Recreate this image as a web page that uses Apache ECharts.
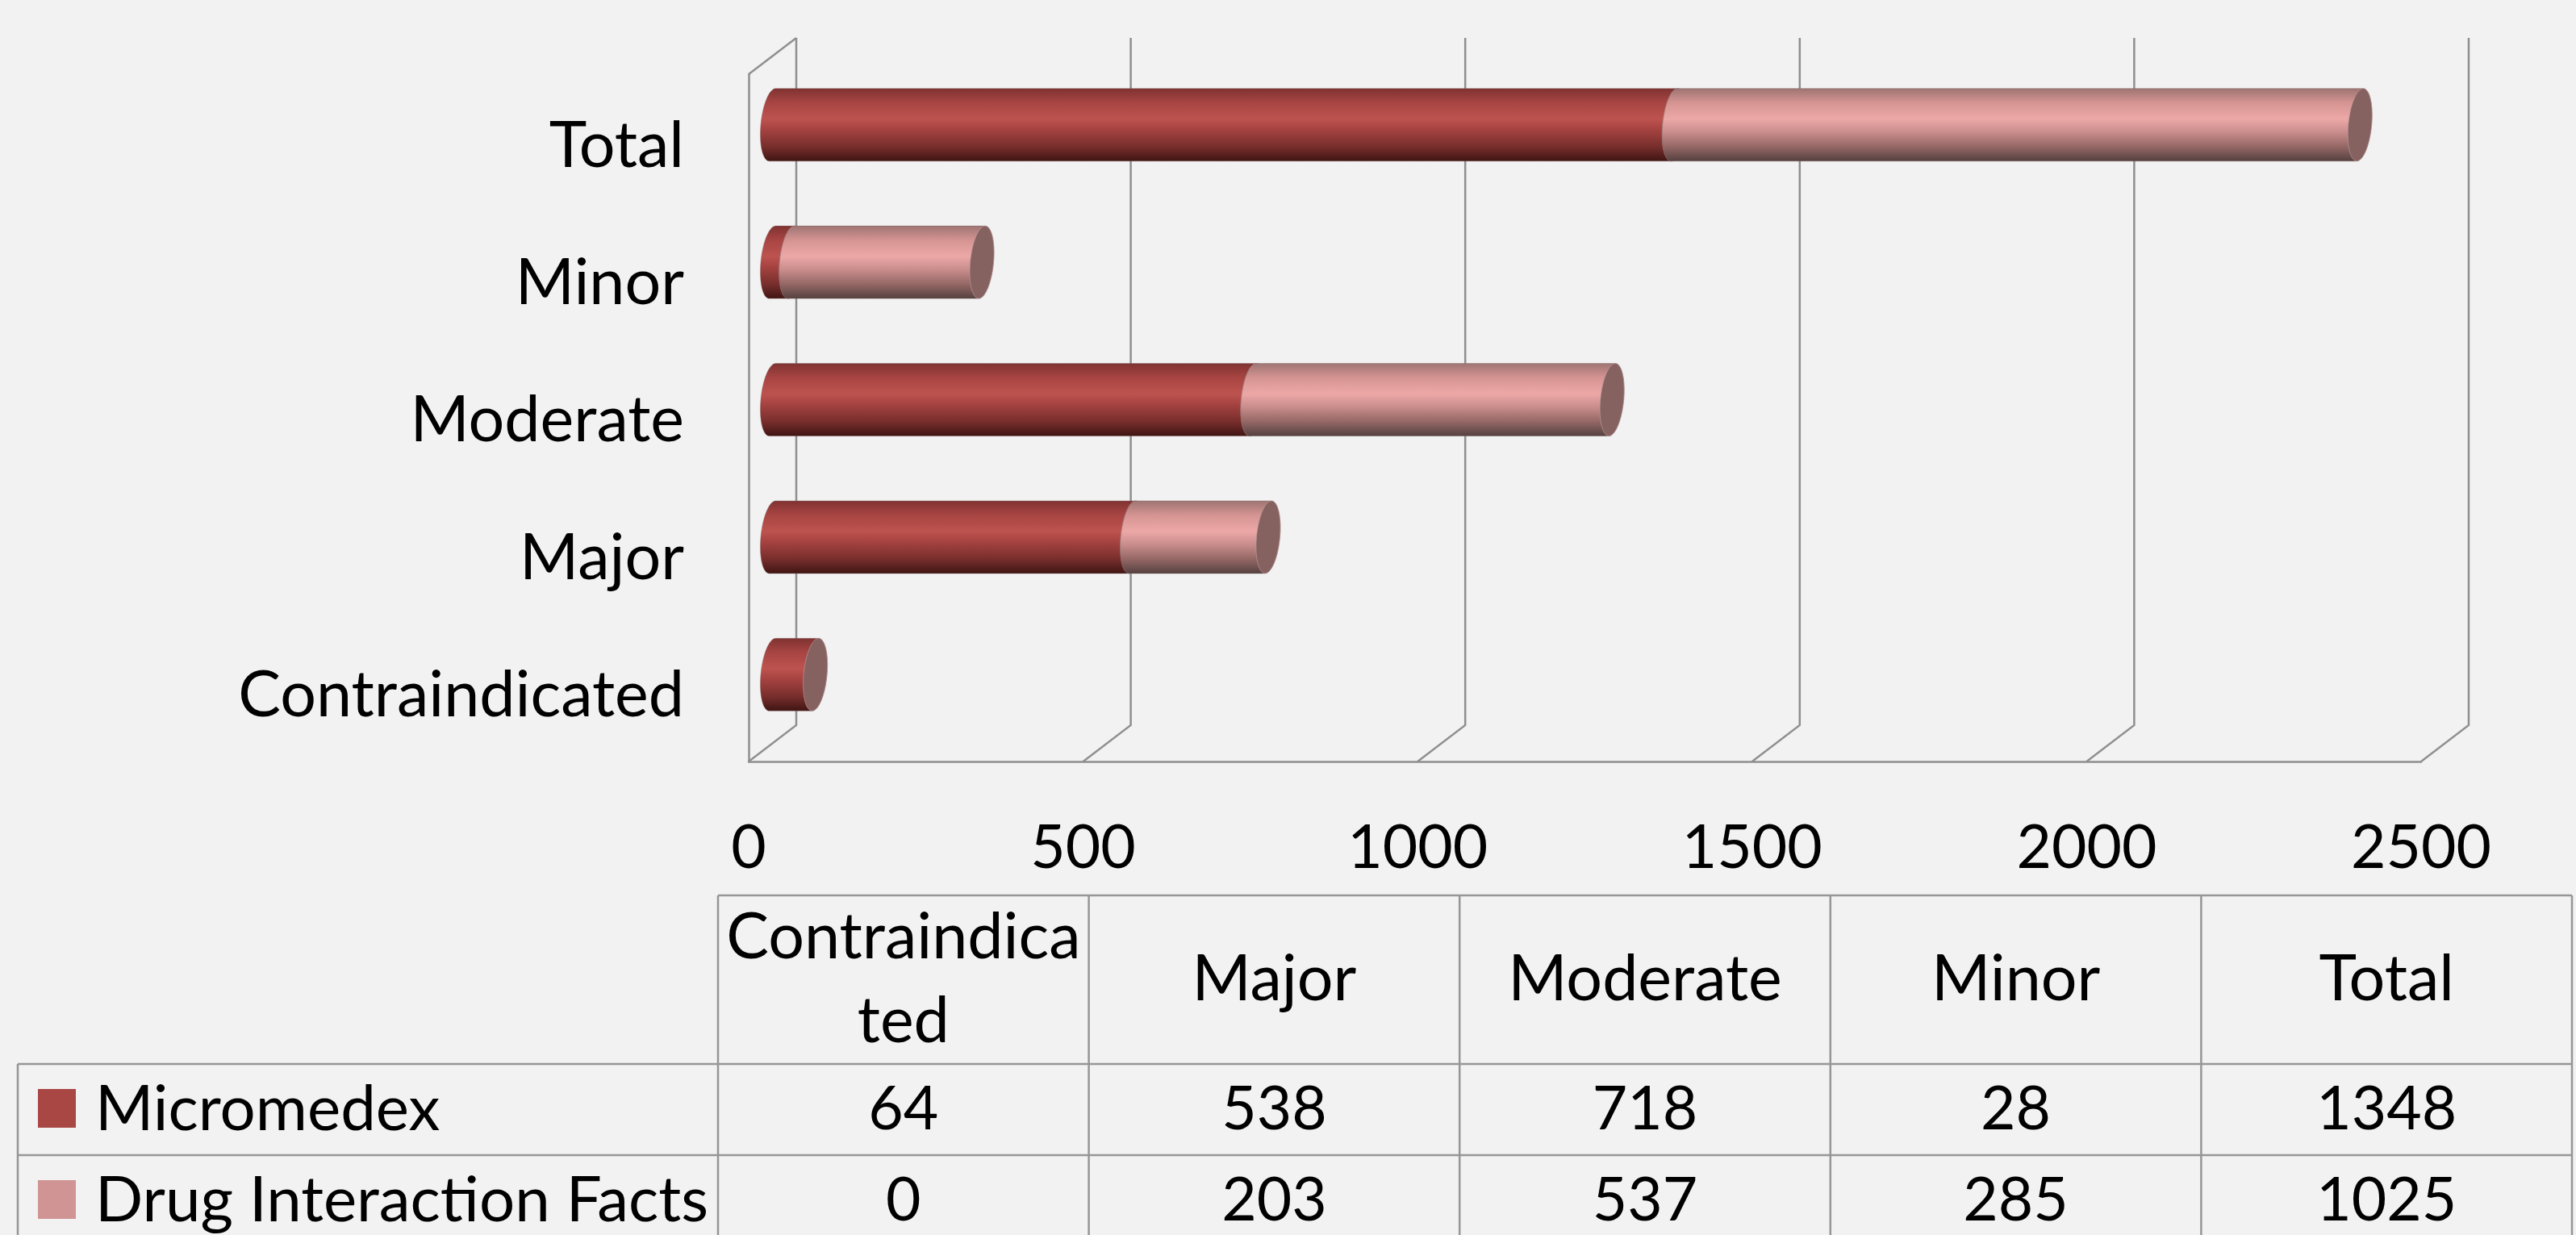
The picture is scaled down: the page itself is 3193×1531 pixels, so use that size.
<!DOCTYPE html>
<html>
<head>
<meta charset="utf-8">
<title>Drug interactions</title>
<style>
  html, body { margin: 0; padding: 0; background: #f2f2f2; }
  #chart { width: 3193px; height: 1531px; }
</style>
<script src="https://cdn.jsdelivr.net/npm/echarts@6/dist/echarts.min.js"></script>
</head>
<body>
<div id="chart"></div>
<script>
// chart data, bottom category first
var categories = ['Contraindicated', 'Major', 'Moderate', 'Minor', 'Total']
var micromedex = [64, 538, 718, 28, 1348]
var drugFacts = [0, 203, 537, 285, 1025]
var seriesNames = ['Micromedex', 'Drug Interaction Facts']
var valueTicks = [0, 500, 1000, 1500, 2000, 2500]
var headerLabels = ['Contraindica\nted', 'Major', 'Moderate', 'Minor', 'Total']

var FONT = 'Lato, "Open Sans", sans-serif'
var WORD_SIZE = 79 // Lato runs narrower than the original for words
var KEY_SIZE = 78
var NUM_SIZE = 75
var LINE = '#8f8f8f'
var CAP = '#856160'
var COLORS = ['#a94745', '#d09494']

// the fake 3d box: how far back the wall and the cylinders sit from the front plane
var BACK = { x: 59, y: -45 }
var MID = { x: 29.5, y: -22.5 }
var BAR_H = 45 // half height of a cylinder
var ELL_A = 14.5
var ELL_S = 4

var redStops = [
  [0, '#7e3230'], [0.2, '#a84543'], [0.42, '#bd534f'], [0.55, '#a84442'], [0.8, '#772e2c'], [1, '#3e1412']
]
var pinkStops = [
  [0, '#9c7472'], [0.2, '#d59492'], [0.42, '#eca8a7'], [0.6, '#c98d8c'], [0.8, '#946765'], [1, '#53403f']
]

function gradient(stops) {
  return {
    type: 'linear', x: 0, y: 0, x2: 0, y2: 1,
    colorStops: stops.map(function(s) { return { offset: s[0], color: s[1] } })
  }
}

// points of the tilted ellipse between two angles (degrees)
function arc(cx, cy, from, to) {
  var pts = []
  var n = 40
  for (var i = 0; i <= n; i++) {
    var t = (from + (to - from) * i / n) * Math.PI / 180
    pts.push([cx + ELL_A * Math.cos(t) + ELL_S * Math.sin(t), cy - BAR_H * Math.sin(t)])
  }
  return pts
}

function cylinderRenderer(stops) {
  return function(params, api) {
    var start = api.coord([api.value(2), api.value(0)])
    var end = api.coord([api.value(1), api.value(0)])
    var cy = start[1] + MID.y
    var x0 = start[0] + MID.x
    var x1 = end[0] + MID.x
    var body = arc(x0, cy, 90, 270).concat(arc(x1, cy, 270, 450))
    return {
      type: 'group',
      children: [{
        type: 'polygon',
        shape: { points: body },
        style: { fill: gradient(stops), stroke: 'rgba(130,100,100,0.45)', lineWidth: 1 }
      }, {
        type: 'polygon',
        shape: { points: arc(x1, cy, 0, 360) },
        style: { fill: CAP, stroke: 'rgba(190,160,160,0.6)', lineWidth: 1 }
      }]
    }
  }
}

// back wall and floor lines, one item per value tick
function frameRenderer(params, api) {
  var v = api.value(0)
  var front = api.coord([v, 0])
  var size = api.size([0, 1])
  var x = front[0]
  var bottom = front[1] + size[1] / 2
  var top = bottom - size[1] * categories.length
  var lineStyle = { stroke: LINE, lineWidth: 2.5, fill: null }
  var pts = [[x + BACK.x, top + BACK.y], [x + BACK.x, bottom + BACK.y], [x, bottom]]
  var children = [{ type: 'polyline', shape: { points: pts }, style: lineStyle }]
  if (v === 0) {
    children.push({
      type: 'polyline',
      shape: { points: [[x + BACK.x, top + BACK.y], [x, top]] },
      style: lineStyle
    })
  }
  return { type: 'group', children: children }
}

function makeTable() {
  var colX = [890, 1349.6, 1809.2, 2268.8, 2728.4, 3188]
  var rowY = [1110, 1319, 1432, 1531]
  var left = 22
  var els = []
  function line(x1, y1, x2, y2) {
    els.push({
      type: 'line',
      shape: { x1: x1, y1: y1, x2: x2, y2: y2 },
      style: { stroke: '#969696', lineWidth: 2.5 }
    })
  }
  function text(s, x, y, align, size) {
    els.push({
      type: 'text',
      style: {
        text: s, x: x, y: y, fill: '#000',
        font: size + 'px ' + FONT,
        lineHeight: 104,
        align: align,
        verticalAlign: 'middle'
      }
    })
  }
  line(colX[0], rowY[0], colX[5], rowY[0])
  line(left, rowY[1], colX[5], rowY[1])
  line(left, rowY[2], colX[5], rowY[2])
  line(left, rowY[1], left, rowY[3])
  colX.forEach(function(x) { line(x, rowY[0], x, rowY[3]) })

  headerLabels.forEach(function(s, i) {
    text(s, (colX[i] + colX[i + 1]) / 2, (rowY[0] + rowY[1]) / 2, 'center', WORD_SIZE)
  })
  var rows = [micromedex, drugFacts]
  rows.forEach(function(values, r) {
    var mid = r === 0 ? 1374 : 1487
    els.push({
      type: 'rect',
      shape: { x: 47, y: mid - 24, width: 47, height: 48 },
      style: { fill: COLORS[r] }
    })
    text(seriesNames[r], 118, mid + 2, 'left', KEY_SIZE)
    values.forEach(function(v, i) {
      text(String(v), (colX[i] + colX[i + 1]) / 2, mid + 2, 'center', NUM_SIZE)
    })
  })
  return els
}

var chart = echarts.init(document.getElementById('chart'), null, { renderer: 'canvas' })
chart.setOption({
  animation: false,
  backgroundColor: '#f2f2f2',
  grid: { left: 928, top: 92, width: 2073, height: 852, containLabel: false },
  xAxis: {
    type: 'value',
    min: valueTicks[0],
    max: valueTicks[valueTicks.length - 1],
    interval: 500,
    splitLine: { show: false },
    axisTick: { show: false },
    axisLine: { show: true, lineStyle: { color: LINE, width: 2.5 } },
    axisLabel: {
      margin: 70,
      color: '#000',
      fontSize: NUM_SIZE,
      fontFamily: FONT,
      formatter: function(v) { return String(v) }
    }
  },
  yAxis: {
    type: 'category',
    data: categories,
    axisTick: { show: false },
    axisLine: { show: true, lineStyle: { color: LINE, width: 2.5 } },
    axisLabel: {
      margin: 80,
      formatter: '{a|{value}}',
      // padding on the rich part nudges the word down to where the original has it
      rich: {
        a: {
          color: '#000',
          fontSize: WORD_SIZE,
          fontFamily: FONT,
          padding: [8, 0, 0, 0]
        }
      }
    }
  },
  series: [{
    type: 'custom',
    name: 'frame',
    silent: true,
    z: 1,
    renderItem: frameRenderer,
    data: valueTicks.map(function(v) { return [v] }),
    encode: { x: 0 }
  }, {
    type: 'custom',
    name: seriesNames[0],
    z: 2,
    renderItem: cylinderRenderer(redStops),
    data: micromedex.map(function(v, i) { return [i, v, 0] }),
    encode: { y: 0, x: 1 }
  }, {
    type: 'custom',
    name: seriesNames[1],
    z: 3,
    renderItem: cylinderRenderer(pinkStops),
    // nothing to draw where the value is 0
    data: drugFacts.map(function(v, i) {
      return v > 0 ? [i, micromedex[i] + v, micromedex[i]] : [i, null, null]
    }),
    encode: { y: 0, x: 1 }
  }],
  graphic: makeTable()
})
</script>
</body>
</html>
